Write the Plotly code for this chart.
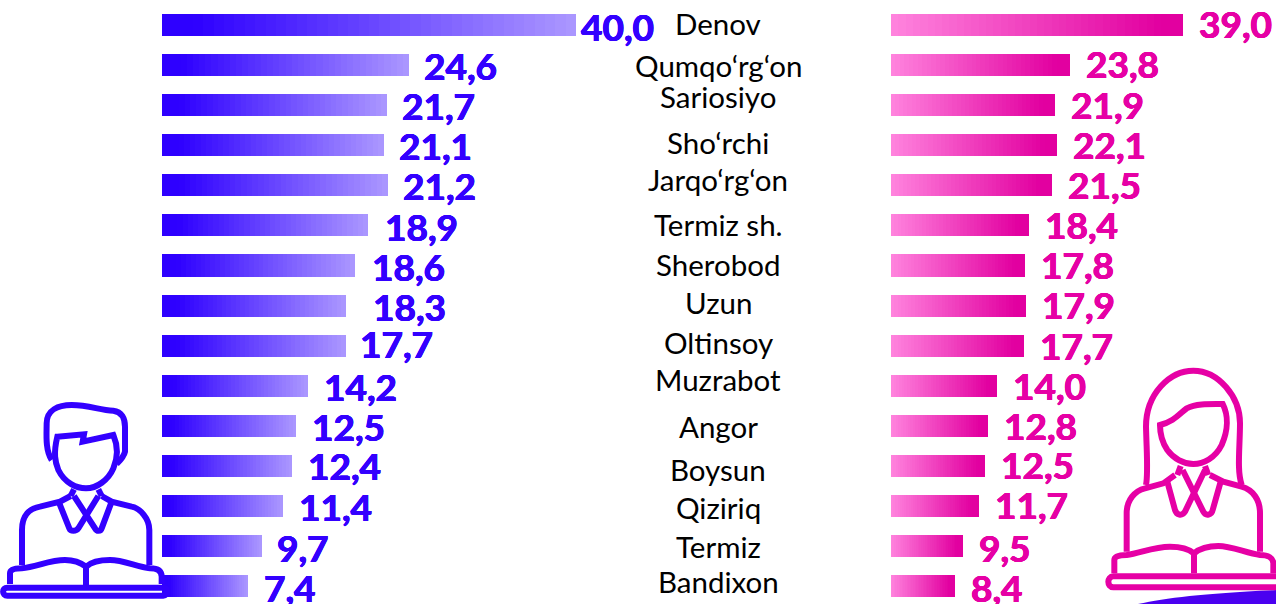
import re
import plotly.graph_objects as go

# ---- data ----
districts = ["Denov", "Qumqo‘rg‘on", "Sariosiyo", "Sho‘rchi", "Jarqo‘rg‘on", "Termiz sh.", "Sherobod",
             "Uzun", "Oltinsoy", "Muzrabot", "Angor", "Boysun", "Qiziriq", "Termiz", "Bandixon"]
men_labels = ["40,0", "24,6", "21,7", "21,1", "21,2", "18,9", "18,6", "18,3", "17,7", "14,2", "12,5", "12,4", "11,4", "9,7", "7,4"]
women_labels = ["39,0", "23,8", "21,9", "22,1", "21,5", "18,4", "17,8", "17,9", "17,7", "14,0", "12,8", "12,5", "11,7", "9,5", "8,4"]
# drawn bar lengths (they differ slightly from the printed labels)
men_bars = [40.0, 23.87, 21.74, 21.45, 21.84, 19.90, 18.65, 17.78, 17.78, 14.11, 12.95, 12.56, 11.69, 9.66, 8.31]
women_bars = [39.0, 23.9, 21.9, 22.17, 21.5, 18.43, 17.9, 18.03, 17.76, 14.16, 12.96, 12.56, 11.75, 9.62, 8.55]

# ---- layout constants ----
W, H = 1276, 604
BLUE, PINK = "#3300FF", "#E600A5"
SEG = 40
men_shift = [3, 13, 13, 13, 13, 15, 15, 25, 12, 14, 14, 14, 14, 13, 14]
men_dy = [1, 0, 0, 0, 0, 1, 1, 1, -2, 1, 1, 0, 1, 1, 1]
women_shift = [14] * 15
women_dy = [-2, -2, -1, -1, -1, -1, -1, -1, 0, 0, 0, -1, -1, 1, 1]
name_y = [23, 65, 97, 142, 180, 224, 264, 302, 342, 379, 426, 469, 507, 546, 581]
row = list(range(len(districts)))


def lerp(a, b, t):
    return "rgb(%d,%d,%d)" % tuple(round(a[i] + (b[i] - a[i]) * t) for i in range(3))


def heavy(c):
    return "0.5px 0 0 %s, -0.5px 0 0 %s, 0 0.4px 0 %s, 0 -0.4px 0 %s" % (c, c, c, c)


fig = go.Figure()
for s in range(SEG):
    t = (s + 0.5) / SEG
    fig.add_trace(go.Bar(y=row, x=[v / SEG for v in men_bars], orientation="h", xaxis="x", yaxis="y",
                         width=0.55, marker=dict(color=lerp((46, 0, 255), (172, 152, 255), max(0, (t - .08) / .92)), line_width=0),
                         hoverinfo="skip", showlegend=False))
for s in range(SEG):
    t = (s + 0.5) / SEG
    fig.add_trace(go.Bar(y=row, x=[v / SEG for v in women_bars], orientation="h", xaxis="x2", yaxis="y",
                         width=0.55, marker=dict(color=lerp((255, 132, 222), (226, 0, 160), min(1, t / .92)), line_width=0),
                         hoverinfo="skip", showlegend=False))

ann = []
for i in row:
    ann.append(dict(xref="x", yref="y", x=men_bars[i], y=i, xshift=men_shift[i], yshift=-men_dy[i], text=men_labels[i],
                    xanchor="left", yanchor="middle", showarrow=False,
                    font=dict(family="Lato", size=37, color=BLUE, weight=700, shadow=heavy(BLUE))))
    ann.append(dict(xref="x2", yref="y", x=women_bars[i], y=i, xshift=women_shift[i], yshift=-women_dy[i], text=women_labels[i],
                    xanchor="left", yanchor="middle", showarrow=False,
                    font=dict(family="Lato", size=37, color=PINK, weight=700, shadow=heavy(PINK))))
    ann.append(dict(xref="paper", yref="paper", x=718 / W, y=1 - name_y[i] / H, text=districts[i],
                    xanchor="center", yanchor="middle", showarrow=False,
                    font=dict(family="Lato", size=29.5, color="#000000")))


def zpath(d, ox, oy):
    """Convert a path drawn in 3x zoom pixels to paper coordinates."""
    toks = re.findall(r"[MLCZ]|-?\d+\.?\d*", d)
    out, nums = [], []
    for tk in toks:
        if tk in "MLCZ":
            out.append(tk)
        else:
            nums.append(float(tk))
            if len(nums) == 2:
                out.append("%.5f,%.5f" % ((ox + nums[0] / 3) / W, 1 - (oy + nums[1] / 3) / H))
                nums = []
    return " ".join(out)


man = [
    "M155,210 C135,180 140,130 140,100 C140,60 175,45 215,45 C270,45 300,62 340,62 C365,65 375,85 375,110 L375,185 C372,200 362,210 350,222",
    "M172,140 L252,133 L248,155 L340,135 C355,170 355,200 340,235 C325,270 290,295 258,295 C230,295 195,280 175,240 C165,215 160,190 172,140 Z",
    "M222,298 L212,318", "M295,298 L305,318",
    "M222,318 L285,415 C290,425 302,425 305,415 L335,335",
    "M295,318 L235,415 C228,425 212,425 208,415 L178,340",
    "M66,525 L66,420 C66,375 90,355 120,350 L180,335 L212,318",
    "M448,525 L448,420 C448,385 420,355 395,350 L335,335 L305,318",
    "M30,582 L30,550 C30,540 40,535 65,535 C110,530 150,510 195,510 C225,510 245,520 258,530 C275,515 300,510 330,510 C370,510 410,530 450,535 C475,535 485,545 485,560 L485,582",
    "M258,530 L258,585",
    "M22,593 L490,593 C505,593 505,617 490,617 L22,617 C5,617 5,593 22,593 Z",
]
woman = [
    "M168,375 C175,340 170,280 168,200 C168,100 240,32 310,32 C385,32 450,110 450,190 C450,260 440,330 455,375",
    "M210,195 C250,185 265,165 290,145 C320,130 360,132 398,132 C415,165 415,210 395,255 C375,295 340,312 310,312 C280,312 250,295 232,270 C215,245 210,220 210,195 Z",
    "M272,318 L262,345", "M345,318 L355,345",
    "M278,330 L340,455 C348,470 365,465 368,450 L392,365",
    "M345,330 L285,455 C275,470 260,465 255,450 L232,365",
    "M110,575 L110,460 C110,420 135,392 165,385 L220,370 L255,345",
    "M510,575 L510,460 C510,420 490,390 455,380 L400,365 L360,345",
    "M73,640 L73,600 C73,590 85,585 110,585 C150,580 190,560 240,560 C275,560 300,570 312,580 C330,565 350,558 385,558 C425,558 470,580 510,585 C535,585 550,595 550,610 L550,640",
    "M312,580 L312,640",
    "M70,649 L575,649 L575,682 L70,682 C50,682 50,649 70,649 Z",
]
shapes = [dict(type="path", xref="paper", yref="paper", path=zpath(p, 0, 390), line=dict(color=BLUE, width=6), fillcolor="rgba(0,0,0,0)", layer="above") for p in man]
shapes += [dict(type="path", xref="paper", yref="paper", path=zpath(p, 1090, 360), line=dict(color=PINK, width=6), fillcolor="rgba(0,0,0,0)", layer="above") for p in woman]
shapes.append(dict(type="path", xref="paper", yref="paper", path=zpath("M130,735 C220,715 330,700 560,690 L560,735 Z", 1090, 360),
                   line=dict(width=0), fillcolor="#4A00F0", layer="below"))

fig.update_layout(
    width=W, height=H, margin=dict(l=0, r=0, t=0, b=0), autosize=False,
    paper_bgcolor="white", plot_bgcolor="rgba(0,0,0,0)", barmode="stack", bargap=0,
    xaxis=dict(domain=[0, 1], range=[-15.652, 107.63], visible=False),
    xaxis2=dict(domain=[0, 1], range=[-119.0, 51.42], visible=False, overlaying="x"),
    yaxis=dict(range=[14.446, -0.624], visible=False),
    annotations=ann, shapes=shapes,
)
fig.write_html("out.html", config=dict(displayModeBar=False),
               post_script="document.body.style.margin='0';document.body.style.overflow='hidden';")
